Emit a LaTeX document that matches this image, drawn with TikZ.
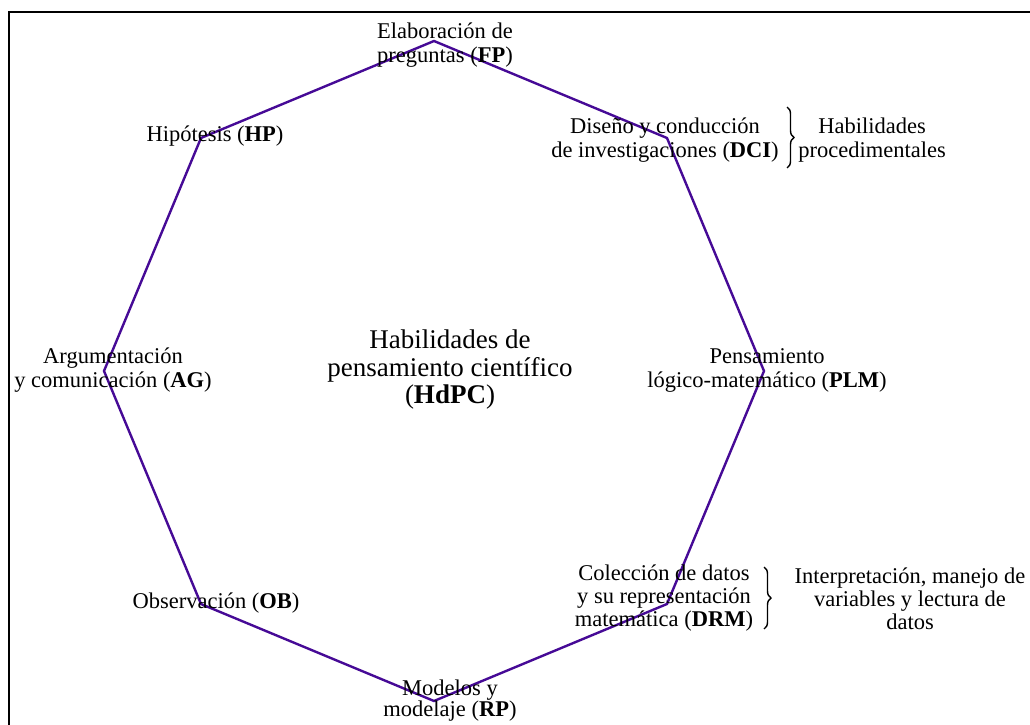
\documentclass[tikz,border=0pt]{standalone}
\usepackage{fontspec}
\setmainfont{Liberation Serif}
\usetikzlibrary{decorations.pathreplacing}
\definecolor{octline}{RGB}{70,10,150}
\begin{document}
\begin{tikzpicture}[x=1bp,y=-1bp,
  lbl/.style={font=\fontsize{22.5bp}{24bp}\selectfont, align=center, inner sep=0pt},
  centertext/.style={font=\fontsize{27bp}{27.5bp}\selectfont, align=center, inner sep=0pt},
  octedge/.style={draw=octline, line width=2.4bp, line join=miter},
  boxline/.style={draw=black, line width=2.5bp},
  bracemark/.style={draw=black, decorate, decoration={brace, amplitude=7bp}, line width=1.4bp}]
\useasboundingbox (0,0) rectangle (1030,725);

% outer frame (left and top edges)
\coordinate (fbl) at (9,725);
\coordinate (ftl) at (9,12);
\coordinate (ftr) at (1030,12);
\draw[boxline] (fbl) -- (ftl) -- (ftr);

% octagon corners
\coordinate (vfp)  at (434,41);
\coordinate (vdci) at (667,138);
\coordinate (vplm) at (764,371);
\coordinate (vdrm) at (667,604);
\coordinate (vrp)  at (434,701);
\coordinate (vob)  at (201,604);
\coordinate (vag)  at (104,371);
\coordinate (vhp)  at (201,138);
\draw[octedge] (vfp) -- (vdci) -- (vplm) -- (vdrm) -- (vrp) -- (vob) -- (vag) -- (vhp) -- cycle;

% centre
\node[centertext] (hdpc) at (450,370) {Habilidades de\\pensamiento científico\\(\textbf{HdPC})};

% skills at the corners
\node[lbl] (fp)  at (445,45.5) {Elaboración de\\preguntas (\textbf{FP})};
\node[lbl] (dci) at (665,140) {Diseño y conducción\\de investigaciones (\textbf{DCI})};
\node[lbl] (plm) at (767,370) {Pensamiento\\lógico-matemático (\textbf{PLM})};
\node[lbl, font=\fontsize{22.5bp}{23bp}\selectfont] (drm) at (664,598.5) {Colección de datos\\y su representación\\matemática (\textbf{DRM})};
\node[lbl, font=\fontsize{22.5bp}{21bp}\selectfont] (rp) at (450,700.5) {Modelos y\\modelaje (\textbf{RP})};
\node[lbl] (ob)  at (216,603) {Observación (\textbf{OB})};
\node[lbl] (ag)  at (113,370) {Argumentación\\y comunicación (\textbf{AG})};
\node[lbl] (hp)  at (215,136.5) {Hipótesis (\textbf{HP})};

% grouping braces
\coordinate (b1t) at (787,107);
\coordinate (b1b) at (787,168);
\draw[bracemark] (b1t) -- (b1b);
\node[lbl] (proc) at (872,140) {Habilidades\\procedimentales};

\coordinate (b2t) at (764,567);
\coordinate (b2b) at (764,629);
\draw[bracemark] (b2t) -- (b2b);
\node[lbl, font=\fontsize{22.5bp}{23bp}\selectfont] (interp) at (910,598.5) {Interpretación, manejo de\\variables y lectura de\\datos};
\end{tikzpicture}
\end{document}
